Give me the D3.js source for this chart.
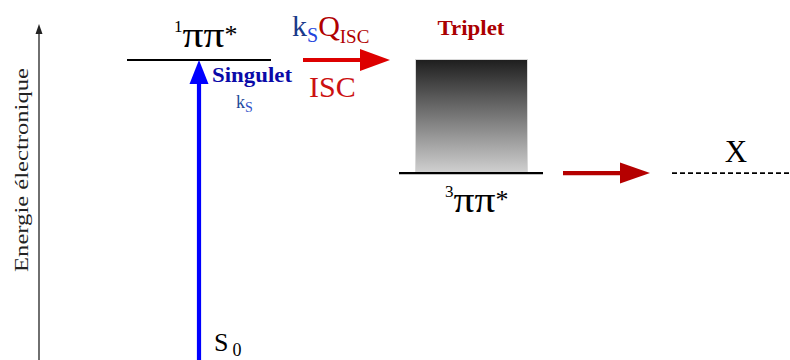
<!DOCTYPE html>
<html><head><meta charset="utf-8">
<script src="https://cdn.jsdelivr.net/npm/d3@7"></script>
<style>html,body{margin:0;padding:0;background:#fff;}svg{display:block;}</style>
</head><body>
<svg id="c" width="790" height="360"></svg>
<script>
// ---- data ----
const levelNames = ["S0", "1ππ*", "3ππ*", "X"];
const levelEnergies = [0, 100, 62.3, 62.3];      // relative electronic energy
const transitionFrom = ["S0", "1ππ*", "3ππ*"];
const transitionTo   = ["1ππ*", "3ππ*", "X"];
const transitionLabels = ["Singulet", "ISC", ""];
const axisLabel = "Energie électronique";

// ---- layout ----
const svg = d3.select("#c");
const W = 790, H = 360;
const E = Object.fromEntries(levelNames.map((n, i) => [n, levelEnergies[i]]));
const y = d3.scaleLinear().domain([0, 100]).range([H, 60]);
const serif = "'Liberation Serif', 'DejaVu Serif', serif";

const defs = svg.append("defs");
const grad = defs.append("linearGradient").attr("id", "tg")
  .attr("x1", 0).attr("y1", 0).attr("x2", 0).attr("y2", 1);
grad.append("stop").attr("offset", "0%").attr("stop-color", "#1e1e1e");
grad.append("stop").attr("offset", "100%").attr("stop-color", "#d0d0d0");

function arrow(g, x1, y1, x2, y2, color, sw, headLen, headHalf) {
  const dx = x2 - x1, dy = y2 - y1, L = Math.hypot(dx, dy);
  const ux = dx / L, uy = dy / L, px = -uy, py = ux;
  const bx = x2 - ux * headLen, by = y2 - uy * headLen;
  g.append("line").attr("x1", x1).attr("y1", y1).attr("x2", bx + ux * 1).attr("y2", by + uy * 1)
    .attr("stroke", color).attr("stroke-width", sw);
  g.append("path").attr("d", `M${x2},${y2}L${bx + px * headHalf},${by + py * headHalf}L${bx - px * headHalf},${by - py * headHalf}Z`)
    .attr("fill", color);
}

function piLabel(x, yb, sup) {
  const t = svg.append("text").attr("x", x).attr("y", yb).attr("font-family", serif).attr("font-size", 36).attr("fill", "#000");
  t.append("tspan").attr("font-size", 17).attr("dy", -15).text(sup);
  t.append("tspan").attr("dx", 0).attr("dy", 15).attr("textLength", 42).attr("lengthAdjust", "spacingAndGlyphs").text("ππ");
  t.append("tspan").attr("dy", -4).attr("font-size", 26).text("*");
}

// energy axis
const ax = svg.append("g");
ax.append("line").attr("x1", 39).attr("x2", 39).attr("y1", H).attr("y2", 30)
  .attr("stroke", "#222").attr("stroke-width", 1.3);
ax.append("path").attr("d", "M39,24L35.5,34L42.5,34Z").attr("fill", "#222");
ax.append("text").attr("transform", `translate(28,${(y(0) + y(100)) / 2 - 40}) rotate(-90)`)
  .attr("text-anchor", "middle").attr("font-family", serif).attr("font-size", 18)
  .attr("textLength", 204).attr("lengthAdjust", "spacingAndGlyphs")
  .attr("fill", "#222").text(axisLabel);

// singlet level
const ySing = y(E["1ππ*"]);
svg.append("line").attr("x1", 127).attr("x2", 271).attr("y1", ySing).attr("y2", ySing)
  .attr("stroke", "#000").attr("stroke-width", 2.2);
piLabel(174, 47, "1");

// excitation arrow S0 -> singlet
arrow(svg.append("g"), 199, y(E["S0"]), 199, ySing, "#0000ff", 4.2, 24, 9.5);
svg.append("text").attr("x", 212).attr("y", 82).attr("font-family", serif).attr("font-weight", "bold")
  .attr("font-size", 21).attr("textLength", 80).attr("lengthAdjust", "spacingAndGlyphs")
  .attr("fill", "#0a0aa8").text(transitionLabels[0]);
const ks = svg.append("text").attr("x", 236).attr("y", 108).attr("font-family", serif).attr("font-size", 18).attr("fill", "#1f4a9a");
ks.append("tspan").text("k");
ks.append("tspan").attr("dy", 4).attr("font-size", 14).attr("fill", "#3050c8").text("S");

// S0 label
const s0 = svg.append("text").attr("x", 214).attr("y", 351).attr("font-family", serif).attr("font-size", 26).attr("fill", "#000");
s0.append("tspan").text("S");
s0.append("tspan").attr("dx", 4).attr("dy", 5).attr("font-size", 18).text("0");

// ISC arrow
arrow(svg.append("g"), 303, ySing, 390, ySing, "#dd0000", 4.2, 30, 11);
const kq = svg.append("text").attr("x", 292).attr("y", 36).attr("font-family", serif).attr("font-size", 30);
kq.append("tspan").attr("fill", "#1a3a8a").text("k");
kq.append("tspan").attr("dy", 6).attr("font-size", 20).attr("fill", "#2244dd").text("S");
kq.append("tspan").attr("dy", -6).attr("fill", "#b00000").text("Q");
kq.append("tspan").attr("dy", 7).attr("font-size", 19).attr("fill", "#b00000").text("ISC");
svg.append("text").attr("x", 309).attr("y", 97).attr("font-family", serif).attr("font-size", 30)
  .attr("fill", "#cc1111").text(transitionLabels[1]);

// triplet
const yTrip = y(E["3ππ*"]);
svg.append("text").attr("x", 471).attr("y", 35).attr("text-anchor", "middle").attr("font-family", serif)
  .attr("font-weight", "bold").attr("font-size", 20).attr("textLength", 67).attr("lengthAdjust", "spacingAndGlyphs")
  .attr("fill", "#aa0000").text("Triplet");
svg.append("rect").attr("x", 415.5).attr("y", ySing - 0.5).attr("width", 112).attr("height", yTrip - ySing)
  .attr("fill", "url(#tg)").attr("stroke", "#d8d8d8").attr("stroke-width", 1);
svg.append("line").attr("x1", 399).attr("x2", 543).attr("y1", yTrip).attr("y2", yTrip)
  .attr("stroke", "#000").attr("stroke-width", 2.2);
piLabel(445, 212, "3");

// triplet -> X
arrow(svg.append("g"), 563, yTrip, 650, yTrip, "#b50000", 4.2, 30, 10.5);
const yX = y(E["X"]);
svg.append("line").attr("x1", 672).attr("x2", 790).attr("y1", yX).attr("y2", yX)
  .attr("stroke", "#000").attr("stroke-width", 1.8).attr("stroke-dasharray", "5,3");
svg.append("text").attr("x", 736).attr("y", 162).attr("text-anchor", "middle").attr("font-family", serif)
  .attr("font-size", 31).attr("fill", "#000").text("X");
</script>
</body></html>
